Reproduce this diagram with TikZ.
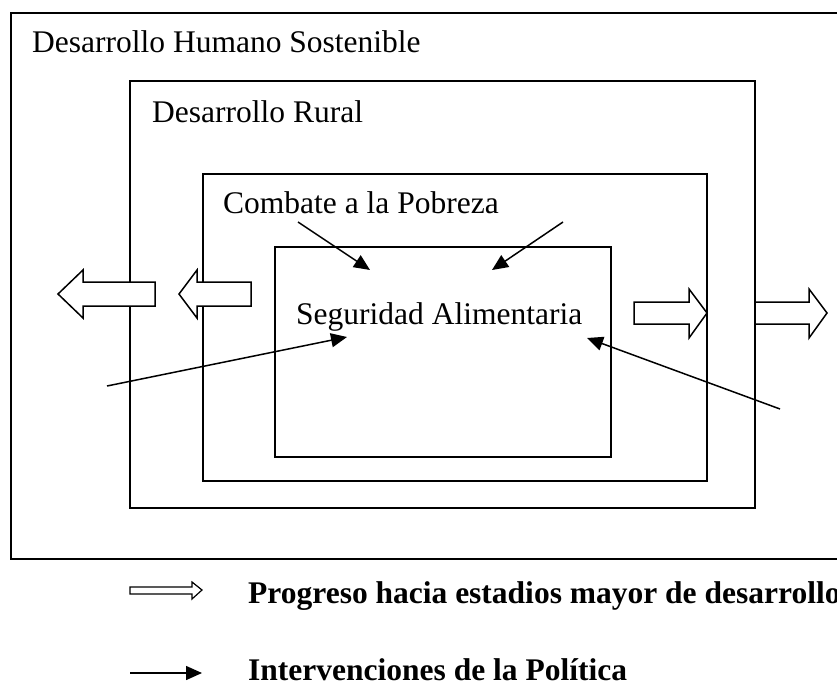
\documentclass[tikz,border=0pt]{standalone}
\usepackage{fontspec}
\setmainfont{Liberation Serif}
\usetikzlibrary{arrows.meta}
\tikzset{
  frame/.style={draw, line width=1.7pt, fill=none, inner sep=0pt},
  lbl/.style={anchor=base west, inner sep=0pt, font=\fontsize{31.5}{36}\selectfont},
  leg/.style={anchor=base west, inner sep=0pt, font=\fontsize{31.5}{36}\selectfont\bfseries},
  blockarrow/.style={draw, line width=1.5pt, fill=white, line join=miter},
  policy/.style={line width=1.5pt, -{Triangle[length=16pt,width=14pt]}},
}
\begin{document}
\begin{tikzpicture}[x=1pt, y=-1pt]
\clip (0,0) rectangle (837,688);
\fill[white] (0,0) rectangle (837,688);
% nested frames
\draw[frame] (11,13) rectangle (860,559);
\draw[frame] (130,81) rectangle (755,508);
\draw[frame] (203,174) rectangle (707,481);
\draw[frame] (275,247) rectangle (611,457);
% labels
\node[lbl] (dhs) at (32,52) {Desarrollo Humano Sostenible};
\node[lbl] (dr) at (152,122) {Desarrollo Rural};
\node[lbl] (cp) at (223,213) {Combate a la Pobreza};
\node[lbl] (sa) at (296,324) {Seguridad Alimentaria};
% block arrows (progress)
\draw[blockarrow] (58,294) -- (83,270) -- (83,282) -- (155,282) -- (155,306) -- (83,306) -- (83,318) -- cycle;
\draw[blockarrow] (179,294) -- (197,270) -- (197,282) -- (251,282) -- (251,306) -- (197,306) -- (197,318) -- cycle;
\draw[blockarrow] (634,302) -- (689,302) -- (689,289) -- (707,313) -- (689,338) -- (689,324) -- (634,324) -- cycle;
\draw[blockarrow] (755,302) -- (809,302) -- (809,289) -- (827,313) -- (809,338) -- (809,324) -- (755,324) -- cycle;
% policy interventions
\coordinate (p1s) at (298,222); \coordinate (p1e) at (370,270);
\coordinate (p2s) at (563,222); \coordinate (p2e) at (492,270);
\coordinate (p3s) at (107,386); \coordinate (p3e) at (347,337);
\coordinate (p4s) at (780,409); \coordinate (p4e) at (587,338);
\draw[policy] (p1s) -- (p1e);
\draw[policy] (p2s) -- (p2e);
\draw[policy] (p3s) -- (p3e);
\draw[policy] (p4s) -- (p4e);
% legend
\draw[blockarrow, line width=1.2pt] (130,587) -- (192,587) -- (192,582) -- (202,590) -- (192,599) -- (192,594) -- (130,594) -- cycle;
\node[leg] (lg1) at (248,603) {Progreso hacia estadios mayor de desarrollo};
\coordinate (l2s) at (130,673); \coordinate (l2e) at (202,673);
\draw[policy] (l2s) -- (l2e);
\node[leg] (lg2) at (248,680) {Intervenciones de la Política};
\end{tikzpicture}
\end{document}
